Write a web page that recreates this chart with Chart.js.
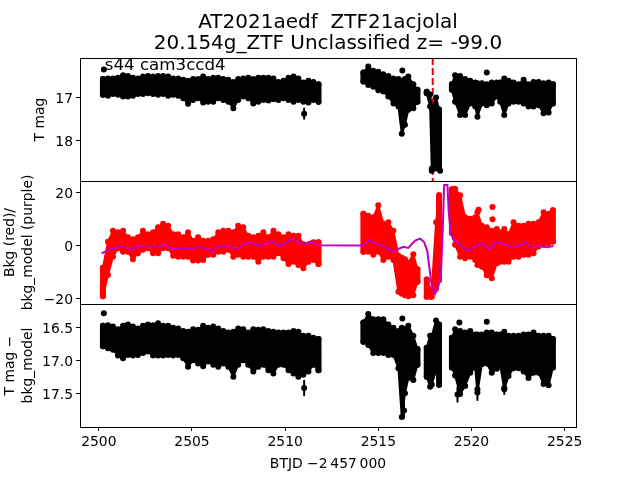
<!DOCTYPE html>
<html>
<head>
<meta charset="utf-8">
<title>AT2021aedf</title>
<script src="https://cdn.jsdelivr.net/npm/chart.js@4"></script>
<style>
  html, body { margin: 0; padding: 0; background: #fff; }
  canvas { display: block; }
</style>
</head>
<body>
<canvas id="lightCurve" width="640" height="480"></canvas>
<script>
// sample times of the envelope (BTJD), each gap has one empty row
const btjd = [
  2500.22, 2500.49, 2500.76, 2501.03, 2501.30, 2501.56, 2501.83, 2502.10, 2502.37, 2502.64, 2502.91,
  2503.18, 2503.45, 2503.72, 2503.99, 2504.26, 2504.53, 2504.79, 2505.06, 2505.33, 2505.60, 2505.87,
  2506.14, 2506.41, 2506.68, 2506.95, 2507.22, 2507.48, 2507.75, 2508.02, 2508.29, 2508.56, 2508.83,
  2509.10, 2509.37, 2509.64, 2509.91, 2510.18, 2510.45, 2510.71, 2510.98, 2511.25, 2511.52, 2511.79,
  2513.00,
  2514.20, 2514.46, 2514.73, 2515.00, 2515.27, 2515.54, 2515.81, 2516.08, 2516.26, 2516.43, 2516.61, 2516.88, 2517.10,
  2517.35,
  2517.60, 2517.78, 2517.87, 2518.10, 2518.26,
  2518.60,
  2518.95, 2519.12, 2519.39, 2519.66, 2519.93, 2520.20, 2520.32, 2520.56, 2520.82, 2521.09, 2521.36, 2521.54,
  2521.76, 2521.99, 2522.26, 2522.53, 2522.80, 2523.06, 2523.33, 2523.60, 2523.87, 2524.14, 2524.37
];

// top panel: T mag, bright and faint edge of the cloud
const magBright = [
  16.56, 16.55, 16.55, 16.53, 16.47, 16.49, 16.53, 16.55, 16.50, 16.49, 16.50,
  16.49, 16.49, 16.50, 16.55, 16.55, 16.58, 16.60, 16.56, 16.56, 16.50, 16.56,
  16.53, 16.53, 16.56, 16.58, 16.63, 16.56, 16.55, 16.53, 16.56, 16.53, 16.53,
  16.53, 16.55, 16.63, 16.60, 16.53, 16.50, 16.55, 16.64, 16.60, 16.63, 16.68,
  null,
  16.41, 16.27, 16.37, 16.39, 16.45, 16.49, 16.55, 16.56, 16.60, 16.56, 16.50, 16.68, 16.81,
  null,
  16.86, 16.92, 17.23, 16.99, 17.27,
  null,
  16.68, 16.47, 16.49, 16.56, 16.60, 16.64, 16.66, 16.66, 16.68, 16.64, 16.64, 16.64,
  16.55, 16.60, 16.64, 16.68, 16.58, 16.68, 16.63, 16.63, 16.66, 16.64, 16.68
];
const magFaint = [
  16.93, 16.95, 16.91, 16.93, 16.97, 16.97, 16.95, 16.91, 16.91, 16.89, 16.91,
  16.93, 16.91, 16.95, 16.93, 16.95, 17.01, 17.14, 17.05, 17.01, 17.11, 17.09,
  17.09, 17.01, 17.05, 17.09, 17.24, 17.05, 16.97, 17.01, 17.13, 17.09, 17.05,
  17.06, 17.03, 17.05, 17.01, 17.05, 17.09, 17.05, 17.09, 17.11, 17.05, 17.09,
  null,
  16.62, 16.70, 16.74, 16.82, 16.85, 16.97, 17.13, 17.20, 17.84, 17.63, 17.28, 17.24, 17.09,
  null,
  16.89, 17.20, 18.65, 18.65, 18.65,
  null,
  16.81, 17.09, 17.40, 17.40, 17.13, 17.20, 17.44, 17.13, 17.17, 17.13, 16.97, 17.09,
  17.40, 17.13, 17.09, 17.09, 17.13, 17.20, 17.20, 17.17, 17.36, 17.34, 17.13
];
const magSingleT = [2500.27, 2511.02, 2516.29, 2520.82, 2517.87, 2518.32];
const magSingle = [16.34, 17.37, 16.36, 16.41, 18.70, 18.70];
const magSingleErr = [0, 0.12, 0, 0, 0, 0];

// middle panel: background flux
const bkgHigh = [
  -8.3, 1.5, 5.7, 5.1, 5.7, 3.2, 2.5, 3.2, 5.7, 4.4, 5.1,
  7.0, 8.3, 7.6, 4.4, 4.4, 3.2, 5.1, 1.9, 3.2, 1.9, 1.9,
  2.5, 5.1, 5.7, 5.7, 5.1, 7.6, 7.0, 3.8, 3.2, 3.8, 5.1,
  3.2, 5.7, 4.4, 3.2, 4.4, 3.8, 3.8, 0.6, 0.6, 1.3, 1.3,
  null,
  12.1, 11.4, 10.8, 15.3, 8.3, 8.9, 5.7, -3.8, -4.5, -5.1, -6.4, -3.2, -8.9,
  null,
  -12.7, -16.5, -16.5, 8.9, 19.1,
  null,
  21.4, 21.6, 19.1, 10.8, 10.2, 10.8, 12.7, 7.6, 7.0, 5.7, 6.4, 5.1,
  6.4, 4.4, 8.9, 7.6, 7.6, 8.3, 8.3, 8.9, 12.7, 12.1, 13.4
];
const bkgLow = [
  -19.1, -11.0, -4.1, -0.9, -2.2, -2.2, -5.1, -2.8, -1.5, -0.9, -2.8,
  -2.8, -0.9, -0.9, -3.8, -4.1, -4.1, -4.1, -5.6, -5.6, -5.4, -3.4,
  -3.4, -2.2, -2.2, -1.5, -4.1, -3.4, -4.1, -4.1, -4.1, -6.0, -4.1,
  -4.1, -4.1, -2.8, -4.7, -6.9, -6.0, -7.3, -8.5, -6.0, -5.4, -6.9,
  null,
  -2.2, -2.2, -3.4, -2.2, -5.4, -4.1, -5.4, -17.4, -18.1, -18.7, -19.1, -18.7, -13.6,
  null,
  -19.3, -19.3, -19.3, -16.2, -13.0,
  null,
  4.8, 0.4, -4.1, -4.7, -4.1, -5.4, -7.3, -7.9, -11.1, -12.3, -6.6, -6.0,
  -6.0, -6.0, -4.1, -4.1, -3.4, -3.4, -2.8, -0.3, 0.4, 1.0, 1.6
];
const bkgSingleT = [2521.13, 2521.13, 2520.38];
const bkgSingle = [14.7, 10.0, 13.6];

// background model (purple line)
const modelT = [
  2500.15, 2500.39, 2500.66, 2500.93, 2501.20, 2501.47, 2501.82, 2502.09, 2502.36, 2502.72, 2502.99,
  2503.26, 2503.53, 2503.89, 2504.24, 2504.60, 2504.96, 2505.32, 2505.77, 2506.13, 2506.30, 2506.66,
  2507.02, 2507.38, 2507.65, 2508.01, 2508.54, 2508.90, 2509.26, 2509.71, 2510.07, 2510.43, 2510.78,
  2511.23, 2511.41, 2511.77, 2514.19, 2514.55, 2514.73, 2515.00, 2515.27, 2515.54, 2515.81, 2516.08,
  2516.34, 2516.61, 2516.97, 2517.24, 2517.46, 2517.63, 2517.78, 2517.87, 2518.05, 2518.23, 2518.37,
  2518.46, 2518.53, 2518.71, 2518.78, 2518.89, 2519.03, 2519.25, 2519.48, 2519.89, 2520.20, 2520.56,
  2521.00, 2521.27, 2521.72, 2522.17, 2522.62, 2522.89, 2523.24, 2523.69, 2524.05, 2524.41
];
const modelY = [
  -2.9, -2.0, -0.8, -1.0, 0.1, -0.8, -1.7, 0.1, -0.1, -0.8, -0.1,
  -0.5, 0.5, -1.2, -1.2, -0.8, -1.2, -0.5, -1.0, -2.2, -0.1, -0.4,
  0.1, -1.2, 0.1, 1.4, 0.1, 0.5, 1.8, 0.1, 1.1, 2.8, 0.9,
  0.9, 1.8, 0.2, 0.1, 2.2, 1.1, 0.75, -0.1, -1.2, -2.3, -1.2,
  -0.4, -0.8, 2.0, 2.7, 1.4, -2.0, -10.3, -15.4, -18.2, -15.4, -9.0,
  6.2, 23.0, 23.0, 12.6, 4.9, 2.4, 1.5, -0.4, -1.8, -0.1, 0.9,
  -1.4, 1.5, 0.9, -0.5, 0.1, 1.4, -0.8, -0.1, -0.5, -0.1
];

// bottom panel: T mag minus bkg_model
const diffBright = [
  16.47, 16.46, 16.48, 16.52, 16.47, 16.45, 16.48, 16.51, 16.47, 16.45, 16.46,
  16.43, 16.47, 16.47, 16.50, 16.51, 16.55, 16.56, 16.52, 16.53, 16.47, 16.50,
  16.48, 16.51, 16.55, 16.57, 16.56, 16.51, 16.52, 16.57, 16.52, 16.53, 16.52,
  16.55, 16.56, 16.57, 16.57, 16.57, 16.55, 16.56, 16.62, 16.62, 16.65, 16.67,
  null,
  16.42, 16.29, 16.37, 16.37, 16.37, 16.45, 16.50, 16.55, 16.50, 16.52, 16.47, 16.62, 16.82,
  null,
  16.80, 16.62, 16.62, 16.39, 16.45,
  null,
  16.65, 16.52, 16.55, 16.57, 16.55, 16.60, 16.60, 16.60, 16.57, 16.57, 16.60, 16.60,
  16.56, 16.62, 16.62, 16.62, 16.60, 16.60, 16.57, 16.62, 16.62, 16.62, 16.67
];
const diffFaint = [
  16.78, 16.81, 16.83, 16.92, 16.96, 16.91, 16.92, 16.91, 16.88, 16.86, 16.92,
  16.92, 16.92, 16.91, 16.92, 16.91, 16.96, 17.09, 16.99, 17.04, 17.08, 17.01,
  17.06, 17.09, 17.04, 17.09, 17.24, 17.06, 16.99, 17.06, 17.16, 17.09, 17.06,
  17.14, 17.19, 17.06, 17.06, 17.14, 17.19, 17.24, 17.21, 17.16, 17.06, 17.14,
  null,
  16.71, 16.76, 16.88, 16.88, 16.88, 16.91, 16.91, 17.11, 17.85, 17.49, 17.26, 17.29, 17.06,
  null,
  17.24, 17.39, 17.36, 17.14, 17.36,
  null,
  17.10, 17.22, 17.50, 17.38, 17.18, 17.10, 17.48, 17.05, 17.04, 17.18, 17.12, 17.06,
  17.43, 17.23, 17.11, 17.11, 17.16, 17.26, 17.18, 17.18, 17.35, 17.37, 17.10
];
const diffSingleT = [2500.27, 2511.02, 2516.29, 2519.35, 2520.82, 2519.25, 2520.32, 2521.76, 2516.38];
const diffSingle = [16.28, 17.41, 16.36, 16.42, 16.41, 17.51, 17.43, 17.41, 17.75];
const diffSingleErr = [0, 0.11, 0, 0, 0, 0.11, 0.16, 0.09, 0.11];

// marked epoch (red dashed line) and ticks
const epochT = [2517.92, 2517.92];
const epochMag = [16.07, 18.94];
const xTicks = [2500, 2505, 2510, 2515, 2520, 2525];
const magTicks = [17, 18];
const bkgTicks = [-20, 0, 20];
const diffTicks = [16.5, 17, 17.5];
const titleLines = ['AT2021aedf  ZTF21acjolal', '20.154g_ZTF Unclassified z= -99.0'];
const sectorLabel = 's44 cam3ccd4';

const FONT = '"DejaVu Sans", sans-serif';

function pts(xs, ys) {
  return xs.map((x, i) => ({ x: x, y: ys[i] }));
}

// vertical error bars, empty row between bars
function errPts(xs, ys, errs) {
  const out = [];
  xs.forEach((x, i) => {
    if (!errs[i]) return;
    out.push({ x: x, y: ys[i] - errs[i] }, { x: x, y: ys[i] + errs[i] }, { x: x, y: null });
  });
  return out;
}

// first and last sample of every stretch, so the cloud ends get the same thickness as its edges
function endCaps(high, low) {
  const out = [];
  btjd.forEach((t, i) => {
    if (high[i] === null) return;
    if (i === 0 || i === btjd.length - 1 || high[i - 1] === null || high[i + 1] === null) {
      out.push({ x: t, y: high[i] }, { x: t, y: low[i] }, { x: t, y: null });
    }
  });
  return out;
}

function cloud(axis, color, high, low, singleT, single, singleErr) {
  const base = {
    type: 'line', yAxisID: axis, borderColor: color, backgroundColor: color, pointBackgroundColor: color,
    pointBorderWidth: 0, pointRadius: 3, borderWidth: 2, borderJoinStyle: 'round', borderCapStyle: 'round',
    tension: 0, spanGaps: false, order: 5
  };
  const sets = [
    Object.assign({}, base, { data: pts(btjd, high), fill: '+1' }),
    Object.assign({}, base, { data: pts(btjd, low), fill: false }),
    Object.assign({}, base, { data: endCaps(high, low), pointRadius: 0, borderWidth: 6, fill: false }),
    Object.assign({}, base, { data: pts(singleT, single), showLine: false, fill: false })
  ];
  if (singleErr) {
    sets.push(Object.assign({}, base, { data: errPts(singleT, single, singleErr), pointRadius: 0, borderWidth: 2, fill: false }));
  }
  return sets;
}

function yAxis(weight, min, max, reverse, ticks, fmt, titleText, titlePad) {
  return {
    type: 'linear', position: 'left', stack: 'panels', stackWeight: 1, weight: weight,
    min: min, max: max, reverse: reverse,
    afterBuildTicks: s => { s.ticks = ticks.map(v => ({ value: v })); },
    afterFit: s => { s.width = 80; },
    grid: { drawOnChartArea: false, color: '#000', tickLength: 4, lineWidth: 1 },
    border: { display: true, color: '#000', width: 1 },
    ticks: { color: '#000', padding: 3, labelOffset: 1.5, font: { family: FONT, size: 13.9 }, callback: fmt, autoSkip: false, maxRotation: 0 },
    title: { display: true, text: titleText, color: '#000', font: { family: FONT, size: 13.9, lineHeight: 1.3 }, padding: titlePad }
  };
}

// panel frames, figure title and the sector label
const framePlugin = {
  id: 'frames',
  afterDatasetsDraw(chart) {
    const ctx = chart.ctx;
    const area = chart.chartArea;
    ctx.save();
    ctx.strokeStyle = '#000';
    ctx.lineWidth = 1;
    ['yMag', 'yBkg', 'yDiff'].forEach(id => {
      const s = chart.scales[id];
      ctx.strokeRect(Math.round(area.left) + 0.5, Math.round(s.top) + 0.5, Math.round(area.right - area.left), Math.round(s.bottom - s.top));
    });
    ctx.fillStyle = '#000';
    ctx.textBaseline = 'alphabetic';
    ctx.font = '16.67px ' + FONT;
    ctx.textAlign = 'left';
    ctx.fillText(sectorLabel, chart.scales.x.getPixelForValue(2500.32), chart.scales.yMag.getPixelForValue(16.34));
    ctx.font = '20px ' + FONT;
    ctx.textAlign = 'center';
    const mid = (area.left + area.right) / 2;
    ctx.fillText(titleLines[0], mid, 28);
    ctx.fillText(titleLines[1], mid, 49);
    ctx.restore();
  }
};

new Chart(document.getElementById('lightCurve'), {
  type: 'line',
  data: {
    datasets: [
      { type: 'line', yAxisID: 'yBkg', data: pts(modelT, modelY), borderColor: '#bf00bf', borderWidth: 2, pointRadius: 0, tension: 0, fill: false, order: 1 },
      { type: 'line', yAxisID: 'yMag', data: pts(epochT, epochMag), borderColor: '#f00000', borderWidth: 2, borderDash: [7, 3], pointRadius: 0, fill: false, order: 9 }
    ]
      .concat(cloud('yMag', '#000', magBright, magFaint, magSingleT, magSingle, magSingleErr))
      .concat(cloud('yBkg', '#f00', bkgHigh, bkgLow, bkgSingleT, bkgSingle, null))
      .concat(cloud('yDiff', '#000', diffBright, diffFaint, diffSingleT, diffSingle, diffSingleErr))
  },
  options: {
    responsive: false,
    animation: false,
    layout: { padding: { left: 0, right: 64, top: 58, bottom: 0 } },
    plugins: {
      legend: { display: false },
      tooltip: { enabled: false },
      title: { display: false }
    },
    scales: {
      x: {
        type: 'linear', position: 'bottom', min: 2498.99, max: 2525.61,
        afterBuildTicks: s => { s.ticks = xTicks.map(v => ({ value: v })); },
        afterFit: s => { s.height = 53; },
        grid: { drawOnChartArea: false, color: '#000', tickLength: 4, lineWidth: 1 },
        border: { display: true, color: '#000', width: 1 },
        ticks: { color: '#000', padding: 3, font: { family: FONT, size: 13.9 }, callback: v => String(v), autoSkip: false, maxRotation: 0 },
        title: { display: true, text: 'BTJD \u22122\u2009457\u2009000', color: '#000', font: { family: FONT, size: 13.9 }, padding: { top: 2, bottom: 7 } }
      },
      yMag: yAxis(3, 16.07, 18.94, true, magTicks, v => String(v), 'T mag', { top: 31, bottom: 0 }),
      yBkg: yAxis(2, -22, 24.5, false, bkgTicks, v => String(v).replace('-', '\u2212'), ['Bkg (red)/', 'bkg_model (purple)'], { top: 1, bottom: 0 }),
      yDiff: yAxis(1, 16.14, 18.0, true, diffTicks, v => v.toFixed(1), ['T mag \u2212', 'bkg_model'], { top: 1, bottom: 0 })
    }
  },
  plugins: [framePlugin]
});
</script>
</body>
</html>
